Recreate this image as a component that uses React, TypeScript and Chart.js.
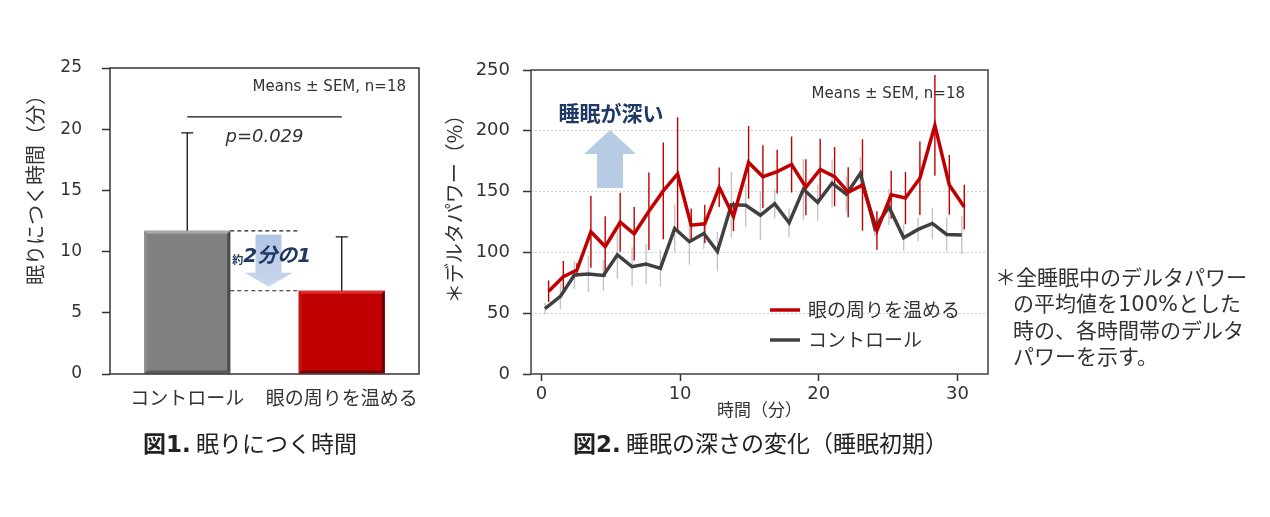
import React, { useEffect, useRef } from 'react';
import { Chart, registerables } from 'chart.js';

Chart.register(...registerables);

// ---------- Figure 1: time to fall asleep ----------
const sleepCategories = ['コントロール', '眼の周りを温める'];
const sleepLatencyMean = [11.7, 6.8];
const sleepLatencySem = [8.0, 4.4];
const sleepYTicks = [0, 5, 10, 15, 20, 25];
const sigBracketValue = 21;
const pValueLabel = 'p=0.029';
const meansLabel = 'Means ± SEM, n=18';
const fig1YTitle = '眠りにつく時間（分）';
const halfLabelSmall = '約';
const halfLabelMain = '2分の1';
const fig1Caption = ['図1.', ' 眠りにつく時間'];

// ---------- Figure 2: delta power over time ----------
const timeTicks = [0, 10, 20, 30];
const powerTicks = [0, 50, 100, 150, 200, 250];
const warmLabel = '眼の周りを温める';
const controlLabel = 'コントロール';
const warmTime = [0.52, 1.58, 2.56, 3.57, 4.6, 5.68, 6.69, 7.75, 8.79, 9.82, 10.8, 11.78, 12.82, 13.85, 14.94, 15.97, 17.0, 18.04, 19.07, 20.1, 21.14, 22.12, 23.15, 24.19, 25.22, 26.25, 27.29, 28.37, 29.41, 30.49];
const warmPower = [68.1, 80, 85.5, 117, 104.8, 124.8, 115.3, 133.8, 150.6, 164.5, 122.4, 123.5, 153.6, 129.7, 174, 162.3, 166.4, 172.3, 153.6, 168.3, 162.3, 149.5, 155.5, 118, 147.4, 144.7, 161, 204.4, 155.5, 137.3];
const warmSem = [8.8, 12.9, 5.5, 29.6, 24.9, 24.2, 22, 31.9, 39.8, 46.6, 13.6, 15.7, 16.3, 12.2, 29.9, 25.8, 18, 23.1, 23, 25.1, 24.4, 20.6, 37.6, 15.8, 19.7, 21.5, 30.3, 41.4, 24.5, 18.4];
const controlTime = [0.26, 1.37, 2.38, 3.39, 4.47, 5.48, 6.54, 7.55, 8.58, 9.61, 10.67, 11.71, 12.69, 13.7, 14.73, 15.79, 16.82, 17.86, 18.89, 19.92, 20.96, 21.99, 23.0, 24.03, 25.06, 26.12, 27.16, 28.19, 29.22, 30.31];
const controlPower = [53.7, 63.8, 81.4, 82.2, 81.1, 98, 88.2, 90.4, 86.8, 119.7, 108.8, 115.6, 100.7, 139.2, 138.7, 130.5, 140, 124.3, 152, 141.1, 156.9, 147.9, 165, 120.2, 137.3, 112.1, 118.9, 123.8, 114.8, 114.3];
const controlSem = [4.8, 10.8, 11.5, 14.9, 12.9, 19.7, 16.3, 16.4, 14.9, 19.7, 19, 12.9, 16.3, 27.2, 17.7, 20.3, 12.2, 11.6, 25.1, 15, 19.7, 14.3, 13.6, 6.8, 14.9, 10.9, 9.5, 12.9, 14.3, 15.6];
const fig2YTitle = '＊デルタパワー（%）';
const fig2XTitle = '時間（分）';
const deeperLabel = '睡眠が深い';
const fig2Caption = ['図2.', ' 睡眠の深さの変化（睡眠初期）'];
const footnoteLines = ['＊全睡眠中のデルタパワー', 'の平均値を100%とした', '時の、各時間帯のデルタ', 'パワーを示す。'];

const JP = "'Noto Sans CJK JP', sans-serif";
const LAT = "'DejaVu Sans', 'Noto Sans CJK JP', sans-serif";
const NAVY = '#1f3864';
const ARROW = '#b8cbe5';

const bevel = [
  { top: '#a8a8a8', left: '#8e8e8e', right: '#4a4a4a', bottom: '#5c5c5c' },
  { top: '#dc3030', left: '#c81010', right: '#6a0000', bottom: '#7e0000' },
];

function poly(ctx: CanvasRenderingContext2D, pts: number[][], color: string) {
  ctx.beginPath();
  ctx.moveTo(pts[0][0], pts[0][1]);
  for (let i = 1; i < pts.length; i++) ctx.lineTo(pts[i][0], pts[i][1]);
  ctx.closePath();
  ctx.fillStyle = color;
  ctx.fill();
}

const fig1Decor = {
  id: 'fig1Decor',
  afterDatasetsDraw(chart: any) {
    const { ctx, chartArea: a, scales } = chart;
    const y = scales.y;
    const meta = chart.getDatasetMeta(0);
    const bars = meta.data.map((el: any) => el.getProps(['x', 'y', 'base', 'width'], true));
    ctx.save();
    // bevel edges
    bars.forEach((b: any, i: number) => {
      const l = b.x - b.width / 2, r = b.x + b.width / 2, t = b.y, bo = b.base, d = 3;
      const c = bevel[i];
      poly(ctx, [[l, t], [r, t], [r - d, t + d], [l + d, t + d]], c.top);
      poly(ctx, [[l, t], [l + d, t + d], [l + d, bo - d], [l, bo]], c.left);
      poly(ctx, [[r, t], [r, bo], [r - d, bo - d], [r - d, t + d]], c.right);
      poly(ctx, [[l, bo], [r, bo], [r - d, bo - d], [l + d, bo - d]], c.bottom);
    });
    // error bars (upper only)
    ctx.strokeStyle = '#111';
    ctx.lineWidth = 1.3;
    bars.forEach((b: any, i: number) => {
      const yt = y.getPixelForValue(sleepLatencyMean[i] + sleepLatencySem[i]);
      ctx.beginPath();
      ctx.moveTo(b.x, b.y);
      ctx.lineTo(b.x, yt);
      ctx.moveTo(b.x - 6, yt);
      ctx.lineTo(b.x + 6, yt);
      ctx.stroke();
    });
    const leftEdge = bars[0].x + bars[0].width / 2;
    const rightEdge = bars[1].x - bars[1].width / 2;
    // arrow
    const ax = (leftEdge + rightEdge) / 2 + 4;
    const yTop = y.getPixelForValue(sleepLatencyMean[0]) + 4;
    const yTip = y.getPixelForValue(sleepLatencyMean[1]) - 4;
    const yBase = yTip - 14;
    const g = ctx.createLinearGradient(0, yTop, 0, yTip);
    g.addColorStop(0, '#b0c4e4');
    g.addColorStop(1, '#cbd8ec');
    poly(ctx, [[ax - 13, yTop], [ax + 13, yTop], [ax + 13, yBase], [ax + 24, yBase], [ax, yTip], [ax - 24, yBase], [ax - 13, yBase]], g as any);
    // dashed reference lines
    ctx.strokeStyle = '#222';
    ctx.lineWidth = 1.2;
    ctx.setLineDash([4, 3]);
    bars.forEach((b: any) => {
      ctx.beginPath();
      ctx.moveTo(leftEdge, b.y);
      ctx.lineTo(rightEdge, b.y);
      ctx.stroke();
    });
    ctx.setLineDash([]);
    // half label
    ctx.fillStyle = NAVY;
    ctx.textBaseline = 'middle';
    ctx.textAlign = 'left';
    const ty = (yTop + yTip) / 2 - 4;
    ctx.font = `bold 11px ${JP}`;
    ctx.fillText(halfLabelSmall, leftEdge + 2, ty + 3);
    ctx.font = `italic bold 20px ${LAT}`;
    ctx.fillText(halfLabelMain, leftEdge + 13, ty);
    // significance line
    const sy = y.getPixelForValue(sigBracketValue);
    ctx.strokeStyle = '#111';
    ctx.lineWidth = 1.2;
    ctx.beginPath();
    ctx.moveTo(bars[0].x, sy);
    ctx.lineTo(bars[1].x, sy);
    ctx.stroke();
    ctx.fillStyle = '#333';
    ctx.textAlign = 'center';
    ctx.font = `italic 18px ${LAT}`;
    ctx.fillText(pValueLabel, (bars[0].x + bars[1].x) / 2, sy + 20);
    // means label
    ctx.textAlign = 'right';
    ctx.font = `15px ${LAT}`;
    ctx.fillText(meansLabel, a.right - 13, a.top + 19);
    // frame
    ctx.strokeStyle = '#333';
    ctx.lineWidth = 1.5;
    ctx.strokeRect(a.left, a.top, a.right - a.left, a.bottom - a.top);
    // y title
    ctx.save();
    ctx.translate(35, (a.top + a.bottom) / 2 - 36);
    ctx.rotate(-Math.PI / 2);
    ctx.textAlign = 'center';
    ctx.fillStyle = '#333';
    ctx.font = `20px ${JP}`;
    ctx.fillText(fig1YTitle, 0, 0);
    ctx.restore();
    ctx.restore();
  },
};

const fig2Decor = {
  id: 'fig2Decor',
  beforeDatasetsDraw(chart: any) {
    const { ctx, chartArea: a, scales } = chart;
    const x = scales.x, y = scales.y;
    ctx.save();
    // means label
    ctx.fillStyle = '#333';
    ctx.textAlign = 'right';
    ctx.textBaseline = 'middle';
    ctx.font = `15px ${LAT}`;
    ctx.fillText(meansLabel, a.right - 23, a.top + 24);
    // deeper sleep label and arrow
    ctx.fillStyle = NAVY;
    ctx.textAlign = 'center';
    ctx.font = `bold 21px ${JP}`;
    ctx.fillText(deeperLabel, a.left + 80, a.top + 43);
    const cx = a.left + 79;
    poly(ctx, [[cx, a.top + 60], [cx + 26, a.top + 84], [cx + 13, a.top + 84], [cx + 13, a.top + 118], [cx - 13, a.top + 118], [cx - 13, a.top + 84], [cx - 26, a.top + 84]], ARROW);
    // error bars
    const series = [
      { t: controlTime, m: controlPower, s: controlSem, c: '#c4c4c4' },
      { t: warmTime, m: warmPower, s: warmSem, c: '#c00000' },
    ];
    ctx.lineWidth = 1.4;
    series.forEach((sr) => {
      ctx.strokeStyle = sr.c;
      ctx.beginPath();
      sr.t.forEach((tv, i) => {
        const px = x.getPixelForValue(tv);
        ctx.moveTo(px, y.getPixelForValue(sr.m[i] - sr.s[i]));
        ctx.lineTo(px, y.getPixelForValue(sr.m[i] + sr.s[i]));
      });
      ctx.stroke();
    });
    ctx.restore();
  },
  afterDatasetsDraw(chart: any) {
    const { ctx, chartArea: a } = chart;
    ctx.save();
    // legend
    chart.data.datasets.forEach((ds: any, i: number) => {
      const ly = a.top + 240 + i * 30;
      ctx.strokeStyle = ds.borderColor;
      ctx.lineWidth = 3.5;
      ctx.beginPath();
      ctx.moveTo(a.left + 239, ly);
      ctx.lineTo(a.left + 269, ly);
      ctx.stroke();
      ctx.fillStyle = '#333';
      ctx.textAlign = 'left';
      ctx.textBaseline = 'middle';
      ctx.font = `19px ${JP}`;
      ctx.fillText(ds.label, a.left + 277, ly);
    });
    // frame
    ctx.strokeStyle = '#404040';
    ctx.lineWidth = 1.5;
    ctx.strokeRect(a.left, a.top, a.right - a.left, a.bottom - a.top);
    // y title
    ctx.translate(454, (a.top + a.bottom) / 2 - 18);
    ctx.rotate(-Math.PI / 2);
    ctx.textAlign = 'center';
    ctx.textBaseline = 'middle';
    ctx.fillStyle = '#333';
    ctx.font = `20px ${JP}`;
    ctx.fillText(fig2YTitle, 0, 0);
    ctx.restore();
  },
};

export default function App() {
  const ref1 = useRef<HTMLCanvasElement>(null);
  const ref2 = useRef<HTMLCanvasElement>(null);

  useEffect(() => {
    const c1 = new Chart(ref1.current as HTMLCanvasElement, {
      type: 'bar',
      data: {
        labels: sleepCategories,
        datasets: [
          {
            data: sleepLatencyMean,
            backgroundColor: ['#808080', '#c00000'],
            borderWidth: 0,
            barPercentage: 0.557,
            categoryPercentage: 1,
          },
        ],
      },
      options: {
        responsive: false,
        animation: false,
        layout: { padding: { left: 50, right: 851, top: 68, bottom: 93 } },
        plugins: { legend: { display: false }, tooltip: { enabled: false } },
        scales: {
          x: {
            grid: { display: false, drawTicks: false, tickLength: 0 },
            border: { display: false },
            ticks: { font: { family: JP, size: 19 }, color: '#333', padding: 12, maxRotation: 0, autoSkip: false },
            afterFit: (s: any) => { s.height = 50; },
          },
          y: {
            min: 0,
            max: 25,
            afterBuildTicks: (s: any) => { s.ticks = sleepYTicks.map((v) => ({ value: v })); },
            grid: { drawOnChartArea: false, drawTicks: true, tickLength: 8, tickColor: '#333', tickWidth: 1.5 },
            border: { display: false },
            ticks: { font: { family: LAT, size: 17 }, color: '#333', padding: 20 },
            afterFit: (s: any) => { s.width = 60; },
          },
        },
      } as any,
      plugins: [fig1Decor],
    });

    const c2 = new Chart(ref2.current as HTMLCanvasElement, {
      type: 'line',
      data: {
        datasets: [
          {
            label: warmLabel,
            data: warmTime.map((t, i) => ({ x: t, y: warmPower[i] })),
            borderColor: '#c00000',
            borderWidth: 3.5,
            pointRadius: 0,
            tension: 0,
            fill: false,
          },
          {
            label: controlLabel,
            data: controlTime.map((t, i) => ({ x: t, y: controlPower[i] })),
            borderColor: '#404040',
            borderWidth: 3.5,
            pointRadius: 0,
            tension: 0,
            fill: false,
          },
        ],
      },
      options: {
        responsive: false,
        animation: false,
        layout: { padding: { left: 471, right: 282, top: 70, bottom: 97 } },
        plugins: { legend: { display: false }, tooltip: { enabled: false } },
        scales: {
          x: {
            type: 'linear',
            min: -0.75,
            max: 32.2,
            afterBuildTicks: (s: any) => { s.ticks = timeTicks.map((v) => ({ value: v })); },
            grid: { drawOnChartArea: false, drawTicks: true, tickLength: 7, tickColor: '#333', tickWidth: 1.5 },
            border: { display: false },
            ticks: { font: { family: LAT, size: 18 }, color: '#333', padding: 3, maxRotation: 0 },
            title: { display: true, text: fig2XTitle, font: { family: JP, size: 17 }, color: '#333', padding: 0 },
            afterFit: (s: any) => { s.height = 46; },
          },
          y: {
            min: 0,
            max: 250,
            afterBuildTicks: (s: any) => { s.ticks = powerTicks.map((v) => ({ value: v })); },
            grid: {
              color: (c: any) => (c.tick && (c.tick.value === 0 || c.tick.value === 250) ? 'rgba(0,0,0,0)' : '#d0d0d0'),
              lineWidth: 1,
              drawTicks: true,
              tickLength: 8,
              tickColor: '#333',
              tickWidth: 1.5,
            },
            border: { display: false, dash: [2, 2] },
            ticks: { font: { family: LAT, size: 18 }, color: '#333', padding: 13 },
            afterFit: (s: any) => { s.width = 60; },
          },
        },
      } as any,
      plugins: [fig2Decor],
    });

    return () => {
      c1.destroy();
      c2.destroy();
    };
  }, []);

  const canvasStyle: React.CSSProperties = { position: 'absolute', left: 0, top: 0, width: 1270, height: 517 };
  const capStyle: React.CSSProperties = { position: 'absolute', top: 427, lineHeight: '30px', fontSize: 23, fontFamily: JP, color: '#222', whiteSpace: 'pre' };
  return (
    <div style={{ position: 'absolute', left: 0, top: 0, width: 1270, height: 517, background: '#fff', overflow: 'hidden' }}>
      <canvas ref={ref1} width={1270} height={517} style={canvasStyle} />
      <canvas ref={ref2} width={1270} height={517} style={canvasStyle} />
      <div style={{ ...capStyle, left: 143 }}>
        <b style={{ fontFamily: LAT }}>{fig1Caption[0]}</b>
        {fig1Caption[1]}
      </div>
      <div style={{ ...capStyle, left: 573 }}>
        <b style={{ fontFamily: LAT }}>{fig2Caption[0]}</b>
        {fig2Caption[1]}
      </div>
      {footnoteLines.map((line, i) => (
        <div
          key={i}
          style={{
            position: 'absolute',
            left: i === 0 ? 995 : 1013,
            top: 264.75 + i * 26.5,
            lineHeight: '26.5px',
            fontSize: 21,
            fontFamily: LAT,
            color: '#333',
            whiteSpace: 'pre',
          }}
        >
          {line}
        </div>
      ))}
    </div>
  );
}
